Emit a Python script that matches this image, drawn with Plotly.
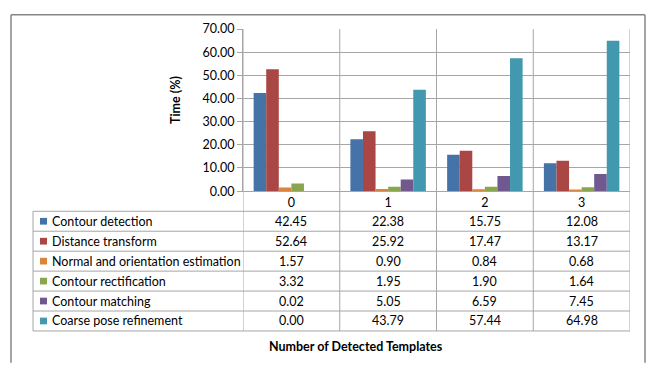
import plotly.graph_objects as go

# ---- data -------------------------------------------------------------
categories = ["0", "1", "2", "3"]
series_names = [
    "Contour detection",
    "Distance transform",
    "Normal and orientation estimation",
    "Contour rectification",
    "Contour matching",
    "Coarse pose refinement",
]
contour_detection = [42.45, 22.38, 15.75, 12.08]
distance_transform = [52.64, 25.92, 17.47, 13.17]
normal_orientation = [1.57, 0.90, 0.84, 0.68]
contour_rectification = [3.32, 1.95, 1.90, 1.64]
contour_matching = [0.02, 5.05, 6.59, 7.45]
coarse_pose = [0.00, 43.79, 57.44, 64.98]
series_values = [
    contour_detection,
    distance_transform,
    normal_orientation,
    contour_rectification,
    contour_matching,
    coarse_pose,
]
colors = ["#4572A7", "#AA4643", "#DB843D", "#89A54E", "#71588F", "#4198AF"]

# ---- layout helpers (pixel -> paper) ----------------------------------
W, H = 648, 365
FONT = "Lato"
GRID = "#A6A6A6"


def px(x):
    return x / W


def py(y):
    return 1 - y / H


plot_left, plot_right = 243, 630
plot_top, plot_bottom = 22, 191
table_left = 33
row_h = 20.8
table_top = 212
n_rows = len(series_names)
table_bottom = table_top + row_h * n_rows

fig = go.Figure()
for name, vals, col in zip(series_names, series_values, colors):
    fig.add_trace(go.Bar(x=categories, y=vals, name=name, marker_color=col,
                         marker_line_width=0))

shapes = []
annotations = []

# outer chart border (open at the bottom edge of the page)
border = dict(color="#868686", width=1.5)
shapes.append(dict(type="line", xref="paper", yref="paper",
                   x0=px(11), x1=px(645), y0=py(7), y1=py(7), line=border))
shapes.append(dict(type="line", xref="paper", yref="paper",
                   x0=px(11), x1=px(11), y0=py(7), y1=py(H + 5), line=border))
shapes.append(dict(type="line", xref="paper", yref="paper",
                   x0=px(645), x1=px(645), y0=py(7), y1=py(H + 5), line=border))

# category separators running through the plot and the table
for i in range(len(categories) + 1):
    shapes.append(dict(type="line", xref="x", yref="paper",
                       x0=i - 0.5, x1=i - 0.5, y0=py(table_bottom), y1=py(plot_top),
                       line=dict(color=GRID, width=1)))

# table horizontal rules
for r in range(n_rows + 1):
    yy = table_top + r * row_h
    shapes.append(dict(type="line", xref="paper", yref="paper",
                       x0=px(table_left), x1=px(plot_right), y0=py(yy), y1=py(yy),
                       line=dict(color=GRID, width=1)))
# table left edge
shapes.append(dict(type="line", xref="paper", yref="paper",
                   x0=px(table_left), x1=px(table_left),
                   y0=py(table_bottom), y1=py(table_top),
                   line=dict(color=GRID, width=1)))

# rows: legend key, series name and values
for r, (name, vals, col) in enumerate(zip(series_names, series_values, colors)):
    yc = table_top + (r + 0.5) * row_h
    shapes.append(dict(type="rect", xref="paper", yref="paper",
                       x0=px(40), x1=px(47), y0=py(yc + 3.5), y1=py(yc - 3.5),
                       fillcolor=col, line=dict(width=0)))
    annotations.append(dict(xref="paper", yref="paper", x=px(50), y=py(yc),
                            text=name, showarrow=False, xanchor="left",
                            yanchor="middle",
                            font=dict(family=FONT, size=12.5, color="#000")))
    for i, v in enumerate(vals):
        annotations.append(dict(xref="x", yref="paper", x=i, y=py(yc),
                                text=f"{v:.2f}", showarrow=False,
                                xanchor="center", yanchor="middle",
                                font=dict(family=FONT, size=12.5, color="#000")))

# axis titles
annotations.append(dict(xref="paper", yref="paper", x=px(175), y=py(96),
                        text="<b>Time (%)</b>", showarrow=False, textangle=-90,
                        xanchor="center", yanchor="middle",
                        font=dict(family=FONT, size=12.5, color="#000")))
annotations.append(dict(xref="paper", yref="paper", x=px(356), y=py(353),
                        text="<b>Number of Detected Templates</b>", showarrow=False,
                        xanchor="center", yanchor="middle",
                        font=dict(family=FONT, size=12.5, color="#000")))

fig.update_layout(
    width=W, height=H,
    margin=dict(l=0, r=0, t=0, b=0),
    paper_bgcolor="white", plot_bgcolor="white",
    barmode="group", bargap=0.22, bargroupgap=0,
    showlegend=False,
    font=dict(family=FONT, size=12.5, color="#000"),
    shapes=shapes, annotations=annotations,
    xaxis=dict(domain=[px(plot_left), px(plot_right)], type="category",
               range=[-0.5, len(categories) - 0.5],
               showline=True, linecolor=GRID, linewidth=1,
               ticks="", showgrid=False, tickfont=dict(family=FONT, size=12.5)),
    yaxis=dict(domain=[py(plot_bottom), py(plot_top)], range=[0, 70], dtick=10,
               tickformat=".2f", showgrid=True, gridcolor=GRID, gridwidth=1,
               showline=True, linecolor=GRID, ticks="outside", ticklen=5,
               tickcolor=GRID, zeroline=False,
               tickfont=dict(family=FONT, size=12.5)),
)

fig.write_html("out.html")
